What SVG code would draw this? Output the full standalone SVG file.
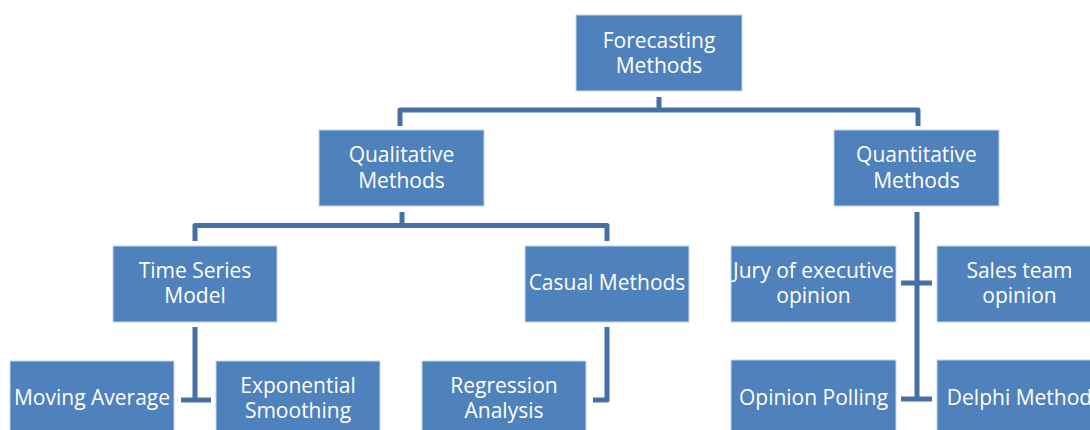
<svg xmlns="http://www.w3.org/2000/svg" width="1090" height="430" viewBox="0 0 1090 430">
<style>
.box{fill:#4F81BD;stroke:#c6d6ea;stroke-width:1}
.t{font-family:"Open Sans","Liberation Sans",sans-serif;font-size:21px;fill:#ffffff;text-anchor:middle}
.c{fill:none;stroke:#4570A6;stroke-width:5;stroke-linejoin:round}
</style>
<rect width="1090" height="430" fill="#ffffff"/>
<g id="connectors">
<path class="c" d="M659,97 V110"/>
<path class="c" d="M400,126 V110 H918 V126"/>
<path class="c" d="M402,212 V225.5"/>
<path class="c" d="M195,241 V225.5 H607 V241"/>
<path class="c" d="M195,327 V400 M181,400 H211"/>
<path class="c" d="M607,327 V400 H593"/>
<path class="c" d="M917,212 V399 M901,283 H932 M901,399 H932"/>
</g>
<g id="forecasting"><rect class="box" x="576" y="15" width="166" height="76"/><text class="t" x="659" y="48">Forecasting</text><text class="t" x="659" y="73">Methods</text></g>
<g id="qualitative"><rect class="box" x="319" y="130" width="165" height="76"/><text class="t" x="401.5" y="162">Qualitative</text><text class="t" x="401.5" y="188">Methods</text></g>
<g id="quantitative"><rect class="box" x="834" y="130" width="165" height="76"/><text class="t" x="916.5" y="162">Quantitative</text><text class="t" x="916.5" y="188">Methods</text></g>
<g id="timeseries"><rect class="box" x="113" y="246" width="164" height="76"/><text class="t" x="195" y="278">Time Series</text><text class="t" x="195" y="303">Model</text></g>
<g id="casual"><rect class="box" x="525" y="246" width="164" height="76"/><text class="t" x="607" y="290">Casual Methods</text></g>
<g id="jury"><rect class="box" x="731" y="246" width="165" height="76"/><text class="t" x="813.5" y="278">Jury of executive</text><text class="t" x="813.5" y="303">opinion</text></g>
<g id="sales"><rect class="box" x="937" y="246" width="165" height="76"/><text class="t" x="1019.5" y="278">Sales team</text><text class="t" x="1019.5" y="303">opinion</text></g>
<g id="moving"><rect class="box" x="10" y="361" width="164" height="76"/><text class="t" x="92" y="405">Moving Average</text></g>
<g id="exponential"><rect class="box" x="216" y="361" width="164" height="76"/><text class="t" x="298" y="393">Exponential</text><text class="t" x="298" y="418">Smoothing</text></g>
<g id="regression"><rect class="box" x="422" y="361" width="164" height="76"/><text class="t" x="504" y="393">Regression</text><text class="t" x="504" y="418">Analysis</text></g>
<g id="polling"><rect class="box" x="731" y="360" width="165" height="77"/><text class="t" x="813.5" y="405">Opinion Polling</text></g>
<g id="delphi"><rect class="box" x="937" y="360" width="165" height="77"/><text class="t" x="1019.5" y="405">Delphi Method</text></g>
</svg>
